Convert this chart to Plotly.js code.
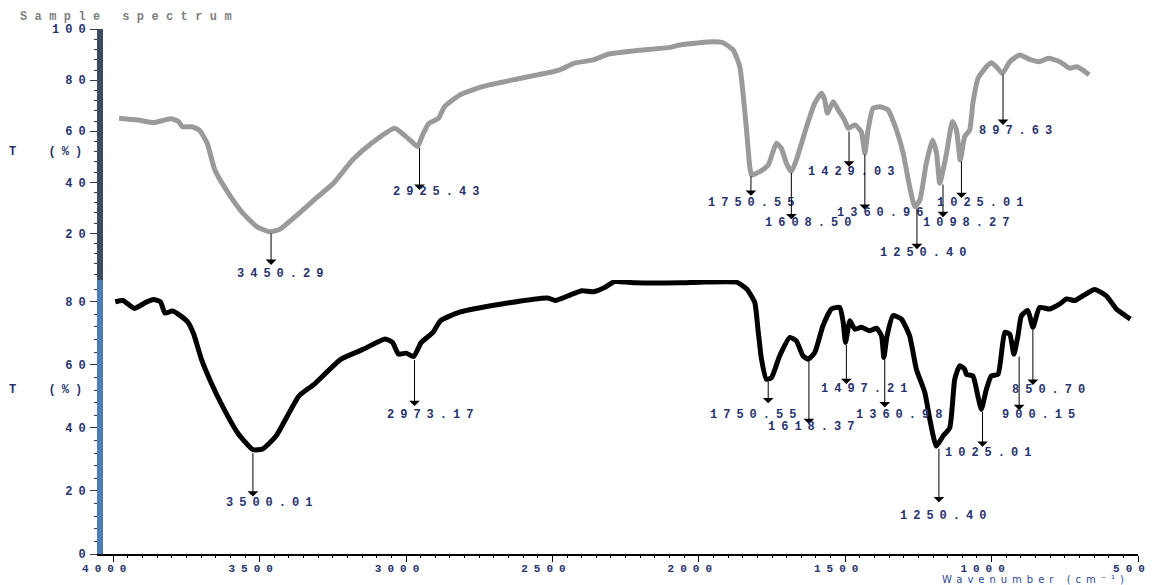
<!DOCTYPE html>
<html><head><meta charset="utf-8">
<script src="https://cdn.plot.ly/plotly-3.0.1.min.js"></script>
<style>
html,body{margin:0;padding:0;background:#fff;}
text[style*="Liberation Mono"]{letter-spacing:6px;}
text[style*="rgb(128, 128, 128)"]{letter-spacing:7.4px;}
text[style*="DejaVu Sans"]{letter-spacing:5px;}
</style></head>
<body><div id="chart" style="width:1159px;height:585px;"></div>
<script>
// ---- Top spectrum (grey) ----
const topWave = [3980,3915,3862,3804,3777,3764,3732,3706,3679,3653,3614,3562,3510,3464,3431,3379,3314,3248,3183,3118,3039,3007,2980,2961,2941,2922,2889,2869,2817,2739,2608,2477,2425,2360,2307,2216,2098,2065,1997,1951,1917,1883,1860,1849,1837,1826,1820,1792,1763,1735,1718,1701,1684,1667,1632,1604,1581,1570,1561,1541,1524,1502,1490,1467,1445,1433,1422,1405,1382,1354,1325,1302,1280,1262,1245,1223,1202,1188,1177,1154,1134,1120,1107,1092,1075,1064,1046,1018,1001,984,963,938,904,870,836,807,767,733,710,688,667];
const topT = [65.1,64.4,63.4,64.9,63.8,61.8,61.8,60.5,55.3,44.8,37.0,28.5,22.6,20.6,21.6,26.5,33.1,39.6,48.7,55.3,61.2,58.6,55.9,54.0,59.2,63.1,65.1,69.6,74.2,77.5,80.8,84.0,86.7,88.0,90.3,91.6,92.9,93.8,94.7,95.1,94.7,91.9,85.3,74.9,60.5,46.1,42.9,44.2,46.8,55.3,53.3,47.5,44.2,48.7,61.8,71.0,74.9,72.3,67.1,71.6,68.4,64.4,61.2,62.5,59.8,51.4,60.5,69.0,69.6,68.4,60.5,51.4,38.3,30.4,33.1,47.5,56.6,51.4,39.6,51.4,63.8,60.5,48.7,57.9,60.5,71.0,80.8,85.3,86.9,85.3,82.7,87.3,89.9,88.2,87.3,88.6,87.3,84.7,85.3,84.0,82.1];

// ---- Bottom spectrum (black) ----
const botWave = [3993,3967,3928,3889,3862,3839,3823,3797,3771,3745,3725,3699,3666,3627,3575,3523,3490,3444,3366,3314,3222,3144,3072,3046,3026,3000,2974,2948,2908,2882,2817,2673,2516,2490,2438,2399,2360,2320,2288,2216,2065,1997,1871,1837,1809,1798,1786,1769,1752,1724,1689,1667,1644,1627,1604,1576,1547,1519,1507,1499,1484,1467,1445,1416,1393,1376,1368,1357,1337,1308,1280,1257,1228,1211,1189,1166,1143,1126,1109,1092,1086,1064,1047,1035,1018,1001,978,955,938,924,910,898,876,859,836,802,767,744,716,688,648,608,574,551,526];
const botT = [80.0,80.4,77.9,79.8,80.7,80.0,76.4,77.1,75.6,73.5,69.7,61.8,54.4,46.9,38.4,33.1,33.3,37.4,50.1,53.8,61.8,65.0,68.2,67.1,63.4,63.7,62.6,67.1,70.3,74.0,76.7,79.3,81.2,80.4,82.2,83.5,83.2,84.6,86.4,86.0,86.0,86.2,86.2,84.1,79.8,71.3,61.8,55.4,55.9,62.8,68.7,67.6,62.8,61.8,63.9,72.4,77.7,78.2,73.5,67.1,74.0,71.3,71.9,70.8,71.6,69.2,62.3,69.2,75.6,74.5,69.2,58.6,51.2,42.7,34.2,37.4,40.0,55.4,59.7,58.6,57.0,56.5,50.1,45.9,52.2,56.5,57.0,70.3,69.7,63.4,69.2,75.6,77.2,71.9,78.2,77.7,79.3,80.9,80.4,81.9,83.9,81.9,77.7,76.1,74.5];

// ---- Peak marks, top spectrum ----
const topPeakText  = ['3450.29','2925.43','1750.55','1608.50','1429.03','1360.96','1250.40','1098.27','1025.01','897.63'];
const topPeakWave  = [3461,2954,1822,1684,1487,1433,1255,1166,1103,961];
const topPeakFromT = [20.5,54.0,42.9,44.2,60.5,51.4,30.3,39.7,48.8,82.8];
const topPeakToT   = [7.6,37.0,34.7,25.5,46.1,29.2,13.8,26.3,33.8,62.5];
const topLabelWave = [3421,2886,1812,1618,1471,1372,1225,1076,1030,909];
const topLabelT    = [4.1,36.2,32.0,24.2,43.9,28.1,12.2,24.2,32.0,60.1];

// ---- Peak marks, bottom spectrum ----
const botPeakText  = ['3500.01','2973.17','1750.55','1618.37','1497.21','1360.98','1250.40','1025.01','900.15','850.70'];
const botPeakWave  = [3523,2971,1763,1624,1496,1365,1180,1031,906,859];
const botPeakFromT = [32.4,62.0,55.0,61.5,66.8,62.0,33.9,45.6,63.1,71.5];
const botPeakToT   = [18.2,46.9,47.8,41.2,53.9,46.5,16.4,34.0,45.6,53.6];
const botLabelWave = [3458,2908,1805,1607,1425,1305,1157,1003,829,796];
const botLabelT    = [16.3,44.1,44.1,40.3,52.2,44.1,12.0,32.1,44.1,52.0];

// ---- Axis ticks ----
const xTickVals = [4000,3500,3000,2500,2000,1500,1000,500];
const xTickText = ['4000','3500','3000','2500','2000','1500','1000','500'];
const topTickVals = [20,40,60,80,100];
const botTickVals = [0,20,40,60,80];

const labelColor = '#28336e';
const monoFont = {family:'Liberation Mono', size:12, color:labelColor, weight:'bold'};

const traces = [
  {x:topWave, y:topT, xaxis:'x', yaxis:'y2', type:'scatter', mode:'lines',
   line:{color:'#9a9a9a', width:5, shape:'spline', smoothing:0.5}, hoverinfo:'skip'},
  {x:botWave, y:botT, xaxis:'x', yaxis:'y', type:'scatter', mode:'lines',
   line:{color:'#000000', width:5, shape:'spline', smoothing:0.5}, hoverinfo:'skip'}
];

const annotations = [];
function addPeaks(texts, waves, fromT, toT, lw, lt, yref){
  for(let i=0;i<texts.length;i++){
    annotations.push({x:waves[i], y:toT[i], xref:'x', yref:yref,
      ax:waves[i], ay:fromT[i], axref:'x', ayref:yref,
      text:'', showarrow:true, arrowhead:1, arrowsize:1.8, arrowwidth:1, arrowcolor:'#000', standoff:0, startstandoff:0});
    annotations.push({x:lw[i], y:lt[i], xref:'x', yref:yref, text:texts[i], showarrow:false,
      xanchor:'center', yanchor:'middle', font:monoFont});
  }
}
addPeaks(topPeakText, topPeakWave, topPeakFromT, topPeakToT, topLabelWave, topLabelT, 'y2');
addPeaks(botPeakText, botPeakWave, botPeakFromT, botPeakToT, botLabelWave, botLabelT, 'y');

annotations.push({xref:'paper', yref:'paper', x:-0.0821, y:1.0229, xanchor:'left', yanchor:'middle',
  text:'Sample spectrum', showarrow:false, font:{family:'Liberation Mono', size:12, color:'#808080', weight:'bold'}});
annotations.push({xref:'paper', yref:'paper', x:-0.0531, y:0.7657, xanchor:'center', yanchor:'middle',
  text:'T\u00a0\u00a0(%)', showarrow:false, font:monoFont});
annotations.push({xref:'paper', yref:'paper', x:-0.0531, y:0.3124, xanchor:'center', yanchor:'middle',
  text:'T\u00a0\u00a0(%)', showarrow:false, font:monoFont});
annotations.push({xref:'paper', yref:'paper', x:0.9014, y:-0.0495, xanchor:'center', yanchor:'middle',
  text:'Wavenumber (cm\u207B\u00B9)', showarrow:false, font:{family:'DejaVu Sans', size:10, color:'#2d4a9a'}});

const yCommon = {showgrid:false, zeroline:false, showline:true, linewidth:6, ticks:'outside',
  ticklen:7, tickwidth:1, tickcolor:'#2f3b5c', tickfont:monoFont, anchor:'x', ticklabelstandoff:-4,
  minor:{tickmode:'linear', tick0:0, dtick:4, ticks:'outside', ticklen:3, tickwidth:1, tickcolor:'#2f3b5c'}};

const layout = {
  width:1159, height:585,
  margin:{l:103, r:21, t:29, b:31},
  paper_bgcolor:'#ffffff', plot_bgcolor:'#ffffff',
  showlegend:false,
  xaxis:{range:[4035,500], anchor:'y', showgrid:false, zeroline:false, showline:true,
    linecolor:'#000', linewidth:2, ticks:'outside', ticklen:6, tickwidth:1, tickcolor:'#000',
    tickmode:'array', tickvals:xTickVals, ticktext:xTickText,
    tickfont:{family:'Liberation Mono', size:11, color:labelColor, weight:'bold'}, ticklabelshift:6, ticklabelstandoff:-3,
    minor:{tickmode:'linear', tick0:0, dtick:50, ticks:'outside', ticklen:2, tickwidth:1, tickcolor:'#000'}},
  yaxis:Object.assign({}, yCommon, {domain:[0,0.5219], range:[0,86.9], linecolor:'#4f7db5',
    tickmode:'array', tickvals:botTickVals}),
  yaxis2:Object.assign({}, yCommon, {domain:[0.5219,1], range:[1.7,100.1], linecolor:'#3e4a60',
    tickmode:'array', tickvals:topTickVals}),
  annotations:annotations
};

Plotly.newPlot('chart', traces, layout, {displayModeBar:false, staticPlot:true});
</script></body></html>
